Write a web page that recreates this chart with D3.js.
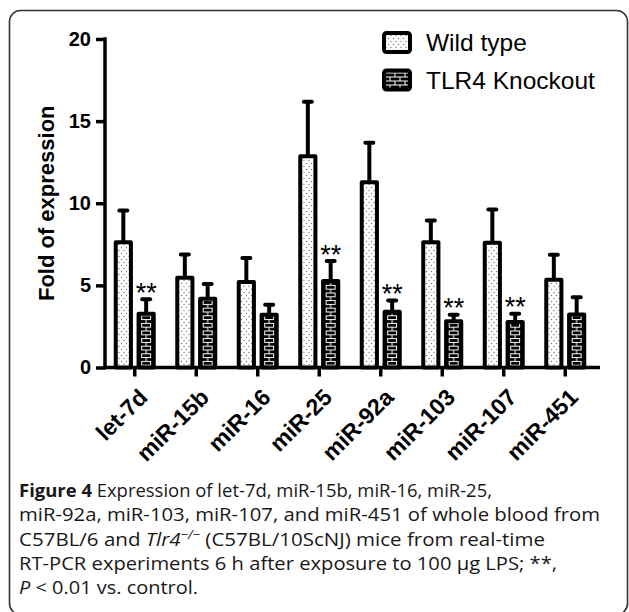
<!DOCTYPE html>
<html lang="en">
<head>
<meta charset="UTF-8">
<title>Figure 4 - miRNA expression</title>
<style>
  body { margin: 0; background: #fff; }
  svg { display: block; }
  .axis path, .axis line { stroke: #000; stroke-width: 3.5; }
  .axis text { font-family: Arial, 'Liberation Sans', sans-serif; font-weight: bold; fill: #000; }
  .caption { font-family: 'Open Sans', 'Noto Sans', sans-serif; font-size: 18.5px; fill: #1a1718; }
</style>
<script src="https://d3js.org/d3.v7.min.js"></script>
</head>
<body>
<svg id="chart" width="629" height="612"></svg>
<script>
// values
const categories = ["let-7d", "miR-15b", "miR-16", "miR-25", "miR-92a", "miR-103", "miR-107", "miR-451"];
const groups = ["Wild type", "TLR4 Knockout"];
const wildType = [7.63, 5.46, 5.2, 12.86, 11.28, 7.63, 7.59, 5.34];
const wildTypeSem = [1.93, 1.42, 1.46, 3.32, 2.4, 1.32, 2.03, 1.52];
const knockout = [3.27, 4.18, 3.21, 5.26, 3.4, 2.81, 2.77, 3.23];
const knockoutSem = [0.88, 0.9, 0.61, 1.22, 0.68, 0.4, 0.5, 1.05];
const significant = [true, false, false, true, true, true, true, false];
const yTicks = [0, 5, 10, 15, 20];

const svg = d3.select("#chart");

// frame
svg.append("rect")
  .attr("x", 9.5).attr("y", 10.5)
  .attr("width", 618).attr("height", 604)
  .attr("rx", 11)
  .attr("fill", "none")
  .attr("stroke", "#333")
  .attr("stroke-width", 1.6);

const y = d3.scaleLinear().domain([0, 20]).range([367.5, 39]);
const x0 = d3.scaleBand().domain(categories).range([104, 596]);
const x1 = d3.scaleBand().domain(groups).range([-21, 21]).paddingInner(0.16);
const stroke = 4;

// patterns
const defs = svg.append("defs");
const dots = defs.append("pattern")
  .attr("id", "dots")
  .attr("patternUnits", "userSpaceOnUse")
  .attr("width", 5).attr("height", 6);
dots.append("rect").attr("width", 5).attr("height", 6).attr("fill", "#fff");
dots.append("circle").attr("cx", 1.5).attr("cy", 1.5).attr("r", 0.65).attr("fill", "#777");
dots.append("circle").attr("cx", 4).attr("cy", 4.5).attr("r", 0.65).attr("fill", "#777");

// ladder of small bricks centred in every knockout bar
const koCentre = x0(categories[0]) + x0.bandwidth() / 2 + x1(groups[1]) + x1.bandwidth() / 2;
const step = x0.step();
const brickH = 7.6;
const ladder = defs.append("pattern")
  .attr("id", "ladder")
  .attr("patternUnits", "userSpaceOnUse")
  .attr("x", koCentre - step / 2)
  .attr("y", y(0) + 1)
  .attr("width", step).attr("height", brickH);
ladder.append("rect").attr("width", step).attr("height", brickH).attr("fill", "#000");
ladder.append("rect")
  .attr("x", step / 2 - 4.5).attr("y", 0.5)
  .attr("width", 9).attr("height", 3.8)
  .attr("fill", "none").attr("stroke", "#fff").attr("stroke-width", 1);
ladder.append("line")
  .attr("x1", step / 2).attr("x2", step / 2)
  .attr("y1", 4.3).attr("y2", brickH + 0.5)
  .attr("stroke", "#fff").attr("stroke-width", 1);

const brick = defs.append("pattern")
  .attr("id", "brick")
  .attr("patternUnits", "userSpaceOnUse")
  .attr("x", 386).attr("y", 72)
  .attr("width", 10).attr("height", 8);
brick.append("rect").attr("width", 10).attr("height", 8).attr("fill", "#000");
brick.append("path")
  .attr("d", "M0,0.5H10M0,4.5H10M2,0.5V4.5M7,4.5V8.5")
  .attr("stroke", "#fff").attr("stroke-width", 1).attr("fill", "none");

// axes
const yAxis = svg.append("g")
  .attr("class", "axis")
  .attr("transform", "translate(105,0)")
  .call(d3.axisLeft(y).tickValues(yTicks).tickSize(9).tickSizeOuter(0).tickPadding(5));
yAxis.select(".domain").attr("d", `M0,${y(0) + 1.75}V${y(20) - 1.75}`);
yAxis.selectAll("text").style("font-size", "20px");

const xAxis = svg.append("g")
  .attr("class", "axis")
  .attr("transform", `translate(0,${y(0)})`)
  .call(d3.axisBottom(x0).tickSize(9).tickSizeOuter(0));
xAxis.select(".domain").attr("d", "M103.25,0H600");
xAxis.selectAll("text")
  .style("font-size", "23px")
  .attr("text-anchor", "end")
  .attr("y", 0).attr("dy", "0.75em")
  .attr("transform", "translate(2,19) rotate(-45)");

// bars
const rows = categories.map((c, i) => [
  { cat: c, g: groups[0], v: wildType[i], e: wildTypeSem[i], fill: "url(#dots)", star: false },
  { cat: c, g: groups[1], v: knockout[i], e: knockoutSem[i], fill: "url(#ladder)", star: significant[i] }
]).flat();

const bars = svg.append("g");
const bx = d => x0(d.cat) + x0.bandwidth() / 2 + x1(d.g);

// error bars (upper only)
bars.selectAll(".err").data(rows).join("line")
  .attr("x1", d => bx(d) + x1.bandwidth() / 2)
  .attr("x2", d => bx(d) + x1.bandwidth() / 2)
  .attr("y1", d => y(d.v))
  .attr("y2", d => y(d.v + d.e))
  .attr("stroke", "#000").attr("stroke-width", 4);
bars.selectAll(".cap").data(rows).join("line")
  .attr("x1", d => bx(d) + x1.bandwidth() / 2 - 4)
  .attr("x2", d => bx(d) + x1.bandwidth() / 2 + 4)
  .attr("y1", d => y(d.v + d.e))
  .attr("y2", d => y(d.v + d.e))
  .attr("stroke", "#000").attr("stroke-width", 4)
  .attr("stroke-linecap", "round");

bars.selectAll(".bar").data(rows).join("rect")
  .attr("x", d => bx(d) + stroke / 2)
  .attr("width", x1.bandwidth() - stroke)
  .attr("y", d => y(d.v))
  .attr("height", d => y(0) - y(d.v))
  .attr("fill", d => d.fill)
  .attr("stroke", "#000").attr("stroke-width", stroke)
  .attr("stroke-linejoin", "round");

bars.selectAll(".star").data(rows.filter(d => d.star)).join("text")
  .attr("x", d => bx(d) + x1.bandwidth() / 2)
  .attr("y", d => y(d.v + d.e) + 2.5)
  .attr("text-anchor", "middle")
  .style("font-family", "Arial, 'Liberation Sans', sans-serif")
  .style("font-size", "27px")
  .text("**");

// y label
svg.append("text")
  .attr("transform", `translate(53.5,${(y(0) + y(20)) / 2}) rotate(-90)`)
  .attr("text-anchor", "middle")
  .style("font-family", "Arial, 'Liberation Sans', sans-serif")
  .style("font-weight", "bold")
  .style("font-size", "22px")
  .text("Fold of expression");

// legend
const legend = svg.append("g").attr("transform", "translate(382,31)");
groups.forEach((g, i) => {
  const row = legend.append("g").attr("transform", `translate(0,${i * 37.5})`);
  row.append("rect")
    .attr("x", 2).attr("y", 2).attr("width", 26).attr("height", 19).attr("rx", 2.5)
    .attr("fill", i === 0 ? "url(#dots)" : "url(#brick)")
    .attr("stroke", "#000").attr("stroke-width", 4);
  row.append("text")
    .attr("x", 44).attr("y", 20)
    .style("font-family", "Arial, 'Liberation Sans', sans-serif")
    .style("font-size", "24.5px")
    .text(g);
});

// caption
const cap = svg.append("g").attr("class", "caption");
const capLines = [
  { y: 497, w: 473, parts: [["Figure 4", "bold"], [" Expression of let-7d, miR-15b, miR-16, miR-25,"]] },
  { y: 521, w: 581, parts: [["miR-92a, miR-103, miR-107, and miR-451 of whole blood from"]] },
  { y: 545.5, w: 526, parts: [["C57BL/6 and "], ["Tlr4", "italic"], ["\u2212/\u2212", "sup"], [" (C57BL/10ScNJ) mice from real-time"]] },
  { y: 570, w: 538, parts: [["RT-PCR experiments 6 h after exposure to 100 \u00b5g LPS; **,"]] },
  { y: 594, w: 179, parts: [["P", "italic"], [" < 0.01 vs. control."]] }
];
capLines.forEach(l => {
  const t = cap.append("text").attr("x", 19).attr("y", l.y)
    .attr("textLength", l.w).attr("lengthAdjust", "spacingAndGlyphs");
  l.parts.forEach(([s, st]) => {
    const sp = t.append("tspan").text(s);
    if (st === "bold") sp.style("font-weight", "bold");
    if (st === "italic") sp.style("font-style", "italic");
    if (st === "sup") {
      sp.style("font-style", "italic").style("font-size", "12px").attr("dy", -7);
    }
  });
  // bring the baseline back after a superscript
  t.selectAll("tspan").each(function (d, i, nodes) {
    if (i > 0 && nodes[i - 1].getAttribute("dy") === "-7") d3.select(this).attr("dy", 7);
  });
});
</script>
</body>
</html>
